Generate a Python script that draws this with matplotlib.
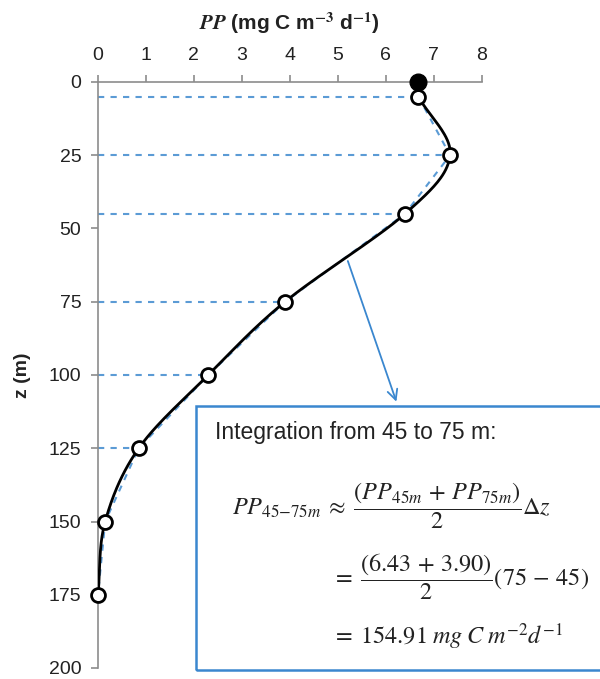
import numpy as np
import matplotlib
matplotlib.use('Agg')
import matplotlib.pyplot as plt
from matplotlib.patches import Rectangle

plt.rcParams['font.family'] = ['Liberation Sans', 'DejaVu Sans']
plt.rcParams['mathtext.fontset'] = 'stix'

# surface value and sampled profile
surf_pp = 6.68
surf_z = 0
pp = [6.68, 7.34, 6.40, 3.90, 2.30, 0.85, 0.15, 0.0]
depth = [5, 25, 45, 75, 100, 125, 150, 175]
dash_depths = [5, 25, 45, 75, 100, 125]

blue = '#5b9bd5'
dark_blue = '#3a87cf'
grey = '#8c8c8c'
txt = '#222222'


def catmull_rom(xs, ys, n=40):
    xs = np.asarray(xs, float)
    ys = np.asarray(ys, float)
    px = np.concatenate([[2 * xs[0] - xs[1]], xs, [2 * xs[-1] - xs[-2]]])
    py = np.concatenate([[2 * ys[0] - ys[1]], ys, [2 * ys[-1] - ys[-2]]])
    out_x, out_y = [], []
    t = np.linspace(0, 1, n)
    for i in range(1, len(px) - 2):
        for p, out in ((px, out_x), (py, out_y)):
            p0, p1, p2, p3 = p[i - 1], p[i], p[i + 1], p[i + 2]
            out.extend(0.5 * (2 * p1 + (-p0 + p2) * t
                              + (2 * p0 - 5 * p1 + 4 * p2 - p3) * t ** 2
                              + (-p0 + 3 * p1 - 3 * p2 + p3) * t ** 3))
    return np.array(out_x), np.array(out_y)


fig = plt.figure(figsize=(6, 6.79), dpi=100)
ax = fig.add_axes([98 / 600, 11 / 679, (481.7 - 98) / 600, (668 - 82) / 679])

ax.set_xlim(0, 8)
ax.set_ylim(200, 0)
ax.xaxis.tick_top()
ax.xaxis.set_label_position('top')
ax.set_xticks(range(0, 9))
ax.set_yticks(range(0, 201, 25))
for s in ['right', 'bottom']:
    ax.spines[s].set_visible(False)
for s in ['left', 'top']:
    ax.spines[s].set_color(grey)
    ax.spines[s].set_linewidth(1.2)
ax.tick_params(axis='both', colors=grey, labelcolor=txt, labelsize=14,
               length=5, direction='out', width=1.2)
ax.tick_params(axis='x', pad=8)
ax.tick_params(axis='y', pad=7)

ax.set_xlabel(r'$\boldsymbol{PP}$ (mg C m$^{\mathbf{-3}}$ d$^{\mathbf{-1}}$)',
              fontsize=15, fontweight='bold', labelpad=12, color=txt)
ax.set_ylabel('z (m)', fontsize=14, fontweight='bold', labelpad=13, color=txt)

# horizontal dashed guides
for d in dash_depths:
    x_at = pp[depth.index(d)]
    ax.plot([0, x_at], [d, d], ls=(0, (3, 3)), color=blue, lw=1.5, zorder=1)

# linear (trapezoid) segments
ax.plot(pp, depth, ls=(0, (3, 3)), color=blue, lw=1.5, zorder=2)

# smooth profile
sx, sy = catmull_rom(pp, depth)
ax.plot(sx, sy, color='black', lw=2, zorder=3)

ax.plot(pp, depth, 'o', ms=10, mfc='white', mec='black', mew=2, zorder=4,
        clip_on=False)
ax.plot([surf_pp], [surf_z], 'o', ms=12, color='black', zorder=5, clip_on=False)

# arrow to the text box
ax.annotate('', xy=(6.24, 110), xytext=(5.19, 60.2),
            arrowprops=dict(arrowstyle='->', color=dark_blue, lw=1.3,
                            mutation_scale=18), zorder=6)

# annotation box
fig.patches.append(Rectangle((196 / 600, 1 - 670 / 679), 0.7, (670 - 406) / 679,
                             transform=fig.transFigure, fill=False,
                             edgecolor=dark_blue, lw=1.8, zorder=7))

fig.text(215 / 600, 1 - 433 / 679, 'Integration from 45 to 75 m:',
         fontsize=16.5, color=txt, va='center', ha='left')
fig.text(232 / 600, 1 - 506 / 679,
         r'$PP_{45\mathrm{-}75m}\;\approx\;\dfrac{(PP_{45m}\,+\,PP_{75m})}{2}\Delta z$',
         fontsize=17.5, color=txt, va='center', ha='left')
fig.text(332 / 600, 1 - 577 / 679,
         r'$=\;\dfrac{(6.43\,+\,3.90)}{2}(75\,-\,45)$',
         fontsize=17.5, color=txt, va='center', ha='left')
fig.text(332 / 600, 1 - 637 / 679,
         r'$=\;154.91\;mg\;C\;m^{-2}d^{-1}$',
         fontsize=17.5, color=txt, va='center', ha='left')

fig.savefig('out.png', dpi=100)
